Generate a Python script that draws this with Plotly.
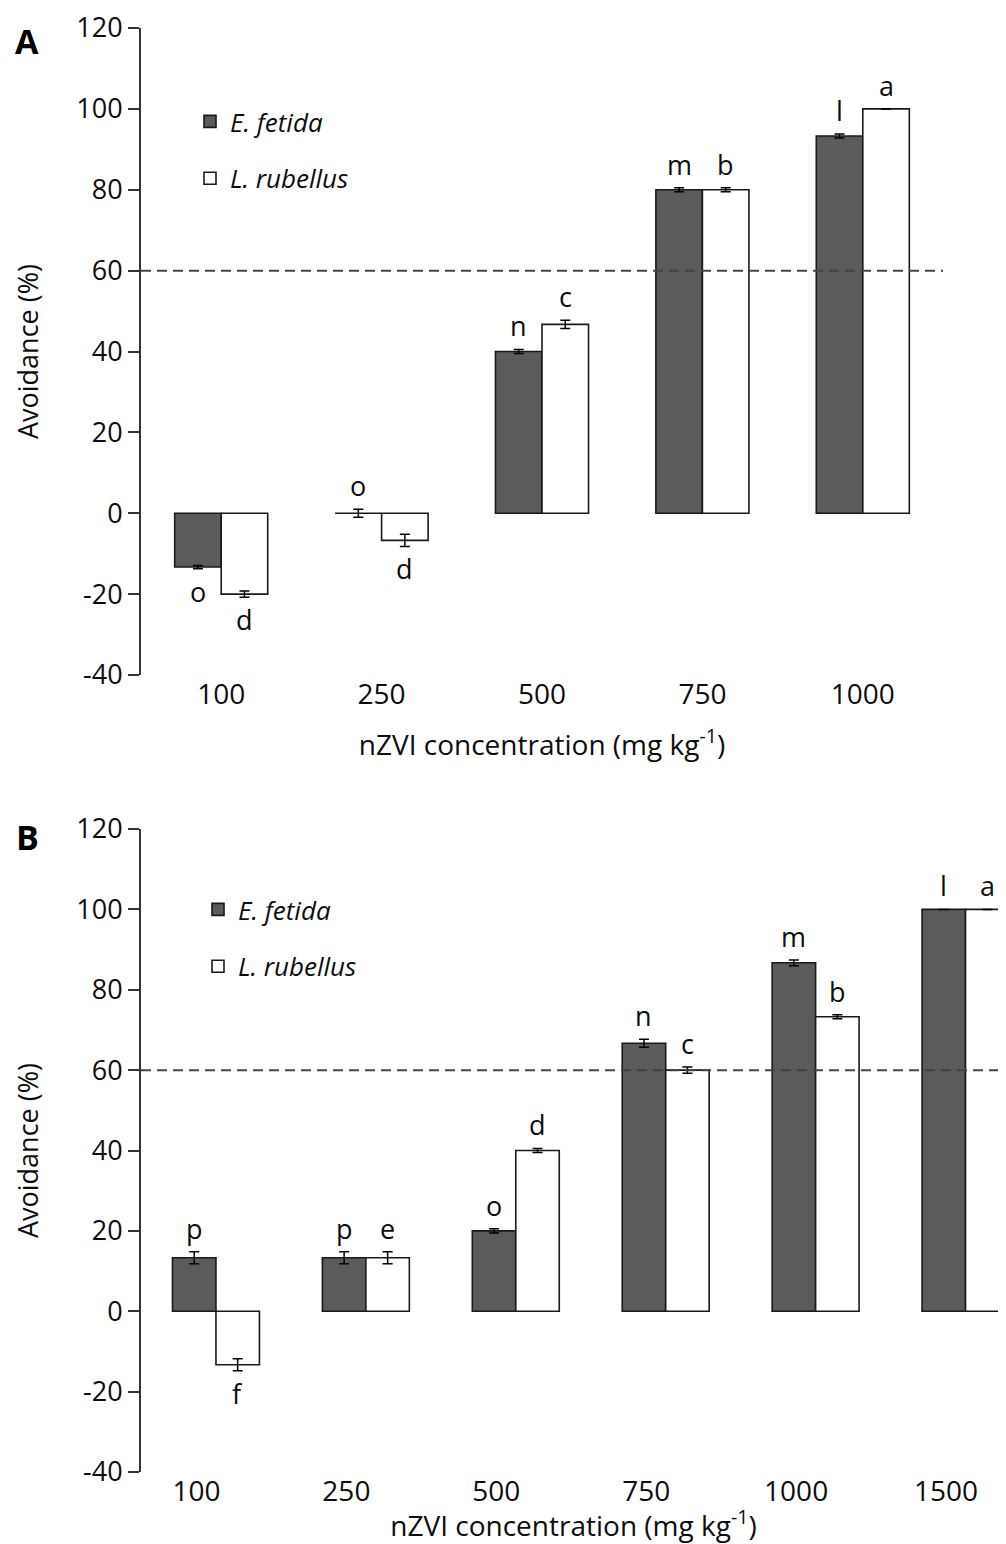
import numpy as np
import plotly.graph_objects as go

# ---------------- data ----------------
conc_A = ["100", "250", "500", "750", "1000"]
efetida_A = [-13.3, 0.0, 40.0, 80.0, 93.3]
efetida_A_err = [0.4, 1.0, 0.5, 0.5, 0.5]
lrub_A = [-20.0, -6.7, 46.7, 80.0, 100.0]
lrub_A_err = [0.8, 1.5, 1.0, 0.5, 0.0]
letters_ef_A = ["o", "o", "n", "m", "l"]
letters_lr_A = ["d", "d", "c", "b", "a"]

conc_B = ["100", "250", "500", "750", "1000", "1500"]
efetida_B = [13.3, 13.3, 20.0, 66.7, 86.7, 100.0]
efetida_B_err = [1.5, 1.5, 0.5, 1.0, 0.7, 0.0]
lrub_B = [-13.3, 13.3, 40.0, 60.0, 73.3, 100.0]
lrub_B_err = [1.5, 1.5, 0.5, 0.8, 0.5, 0.0]
letters_ef_B = ["p", "p", "o", "n", "m", "l"]
letters_lr_B = ["f", "e", "d", "c", "b", "a"]

threshold = 60
y_ticks = [-40, -20, 0, 20, 40, 60, 80, 100, 120]
y_tick_labels = ["-40", "-20", "0", "20", "40", "60", "80", "100", "120"]
series_names = ["<i>E. fetida</i>", "<i>L. rubellus</i>"]
x_title = "nZVI concentration (mg kg<sup>-1</sup>)"
y_title = "Avoidance (%)"

# ---------------- style / geometry ----------------
FONT = "Open Sans"
TXT = "#0d0d0d"
DARK = "#5b5b5b"
AXC = "#333333"
BARGAP = 0.42
BW = (1 - BARGAP) / 2

BODY = 8                      # default page margin
W, H = 1006 - BODY, 1544 - BODY
SCR_L, SCR_R, SCR_T, SCR_B = 141, 1006, 28, 1472   # plot area in screen pixels
ML, MT = SCR_L - BODY, SCR_T - BODY
MR = W - (SCR_R - BODY)
MB = H - (SCR_B - BODY)


def py(px):  # screen pixel y -> paper fraction
    return (SCR_B - px) / (SCR_B - SCR_T)


def pxf(px):  # screen pixel x -> paper fraction
    return (px - SCR_L) / (SCR_R - SCR_L)


y_range = [y_ticks[0], y_ticks[-1]]
domA_y = [py(675), 1.0]
domB_y = [0.0, py(829)]
domA_x = [0.0, pxf(943)]
domB_x = [0.0, 1.0]

fig = go.Figure()

panels = [
    dict(cats=conc_A, ef=efetida_A, efe=efetida_A_err, lr=lrub_A, lre=lrub_A_err,
         lef=letters_ef_A, llr=letters_lr_A, xa="x", ya="y", leg="legend",
         xr=[-0.5, len(conc_A) - 0.5], lab_shift=0.0),
    dict(cats=conc_B, ef=efetida_B, efe=efetida_B_err, lr=lrub_B, lre=lrub_B_err,
         lef=letters_ef_B, llr=letters_lr_B, xa="x2", ya="y2", leg="legend2",
         xr=[-0.5, len(conc_B) - 0.73], lab_shift=-0.13),
]

annotations = []
for pi, p in enumerate(panels):
    xs = np.arange(len(p["cats"]))
    for si, (vals, errs, lets, fill) in enumerate([(p["ef"], p["efe"], p["lef"], DARK),
                                                  (p["lr"], p["lre"], p["llr"], "white")]):
        fig.add_trace(go.Bar(
            x=xs, y=vals, name=series_names[si], xaxis=p["xa"], yaxis=p["ya"],
            marker=dict(color=fill, line=dict(color="#1a1a1a", width=1.6)),
            error_y=dict(type="data", array=errs, color="black", thickness=1.5, width=5),
            legend=p["leg"], legendgroup=f"g{pi}{si}", showlegend=True,
        ))
        off = -BW / 2 if si == 0 else BW / 2
        for xi, v, e, t in zip(xs, vals, errs, lets):
            above = v >= 0
            annotations.append(dict(
                x=xi + off, y=(v + e) if above else (v - e), xref=p["xa"], yref=p["ya"],
                text=t, showarrow=False, font=dict(family=FONT, size=27, color=TXT),
                xanchor="center", yanchor="bottom" if above else "top",
                yshift=3 if above else -2,
            ))

common_y = dict(range=y_range, tickvals=y_ticks, ticktext=y_tick_labels,
                showline=True, linecolor=AXC, linewidth=2,
                ticks="outside", ticklen=11, tickwidth=2, tickcolor=AXC, showgrid=False,
                zeroline=False, tickfont=dict(family=FONT, size=27, color=TXT),
                title=dict(text=y_title, font=dict(family=FONT, size=27, color=TXT), standoff=30))


def zero_pos(dom):
    return dom[0] + (0 - y_range[0]) / (y_range[1] - y_range[0]) * (dom[1] - dom[0])


layout = dict(
    width=W, height=H, margin=dict(l=ML, r=MR, t=MT, b=MB),
    paper_bgcolor="white", plot_bgcolor="white",
    barmode="group", bargap=BARGAP, bargroupgap=0,
    font=dict(family=FONT, color=TXT),
    yaxis=dict(domain=domA_y, anchor="x", **common_y),
    yaxis2=dict(domain=domB_y, anchor="x2", **common_y),
)

for p, domx, domy, names, stand in [(panels[0], domA_x, domA_y, ("xaxis", "xaxis3", "y"), 24),
                                    (panels[1], domB_x, domB_y, ("xaxis2", "xaxis4", "y2"), 14)]:
    n = len(p["cats"])
    layout[names[0]] = dict(
        domain=domx, anchor=names[2], range=p["xr"],
        tickvals=[i + p["lab_shift"] for i in range(n)], ticktext=p["cats"],
        showline=False, ticks="", showgrid=False, zeroline=False,
        tickfont=dict(family=FONT, size=28, color=TXT),
        title=dict(text=x_title, font=dict(family=FONT, size=28, color=TXT), standoff=stand),
    )
    layout[names[1]] = dict(
        domain=domx, overlaying=p["xa"], anchor="free", position=zero_pos(domy), range=p["xr"],
        tickvals=[i + 0.5 for i in range(n)], showticklabels=False,
        showline=True, linecolor=AXC, linewidth=2, ticks="outside", ticklen=5, tickwidth=2,
        tickcolor=AXC, showgrid=False, zeroline=False,
    )

layout["legend"] = dict(x=pxf(190), y=py(98), xanchor="left", yanchor="top", tracegroupgap=20,
                        font=dict(family=FONT, size=26, color=TXT), bgcolor="rgba(0,0,0,0)")
layout["legend2"] = dict(x=pxf(198), y=py(886), xanchor="left", yanchor="top", tracegroupgap=20,
                         font=dict(family=FONT, size=26, color=TXT), bgcolor="rgba(0,0,0,0)")

# panel letters
annotations.append(dict(x=pxf(27), y=py(41), xref="paper", yref="paper", text="<b>A</b>",
                        xanchor="center", yanchor="middle",
                        showarrow=False, font=dict(family=FONT, size=34, color="black")))
annotations.append(dict(x=pxf(27), y=py(837), xref="paper", yref="paper", text="<b>B</b>",
                        xanchor="center", yanchor="middle",
                        showarrow=False, font=dict(family=FONT, size=34, color="black")))
layout["annotations"] = annotations

# threshold dashed lines
layout["shapes"] = [
    dict(type="line", xref="x domain", yref="y", x0=0, x1=1, y0=threshold, y1=threshold,
         line=dict(color="#444", width=2, dash="10px,6px")),
    dict(type="line", xref="x2 domain", yref="y2", x0=0, x1=1, y0=threshold, y1=threshold,
         line=dict(color="#444", width=2, dash="10px,6px")),
]

fig.update_layout(**layout)
fig.write_html("out.html")
